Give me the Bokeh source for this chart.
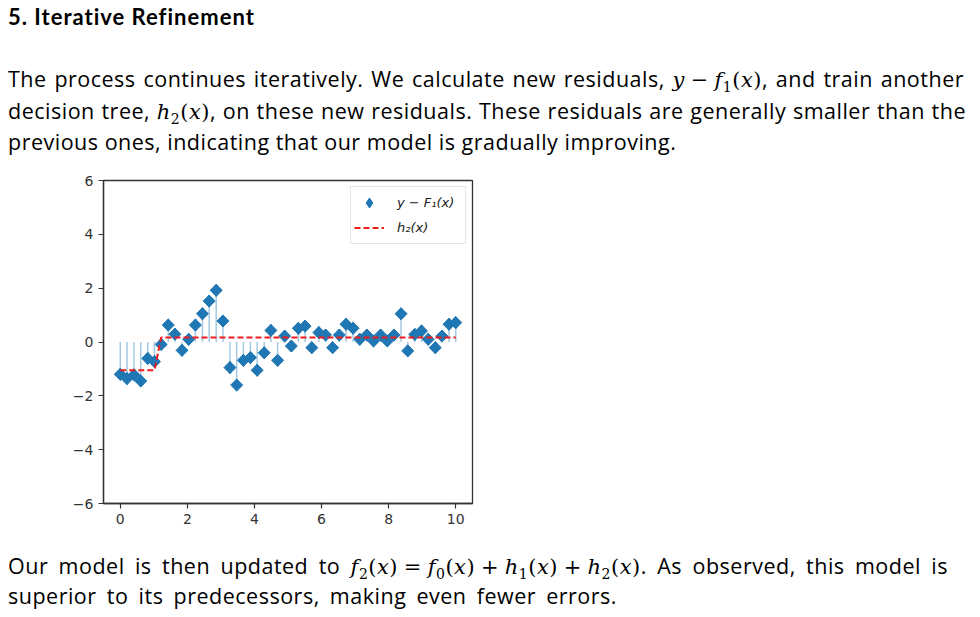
import math
from bokeh.plotting import figure
from bokeh.models import (Div, Spacer, Legend, LegendItem, ColumnDataSource,
                          FixedTicker, Range1d)
from bokeh.layouts import column, row
from bokeh.embed import file_html
from bokeh.resources import INLINE

# ---------------- data ----------------
x_vals = [0.0, 0.2, 0.41, 0.61, 0.82, 1.02, 1.22, 1.43, 1.63, 1.84,
          2.04, 2.24, 2.45, 2.65, 2.86, 3.06, 3.27, 3.47, 3.67, 3.88,
          4.08, 4.29, 4.49, 4.69, 4.9, 5.1, 5.31, 5.51, 5.71, 5.92,
          6.12, 6.33, 6.53, 6.73, 6.94, 7.14, 7.35, 7.55, 7.76, 7.96,
          8.16, 8.37, 8.57, 8.78, 8.98, 9.18, 9.39, 9.59, 9.8, 10.0]
residuals = [-1.20, -1.36, -1.22, -1.45, -0.61, -0.73, -0.09, 0.63, 0.29, -0.31,
             0.10, 0.63, 1.05, 1.52, 1.92, 0.78, -0.95, -1.60, -0.68, -0.58,
             -1.05, -0.40, 0.43, -0.68, 0.22, -0.15, 0.51, 0.59, -0.21, 0.35,
             0.26, -0.21, 0.26, 0.66, 0.51, 0.10, 0.26, 0.04, 0.26, 0.04,
             0.26, 1.05, -0.33, 0.28, 0.41, 0.10, -0.21, 0.22, 0.66, 0.72]
h2_vals = [-1.05, -1.05, -1.05, -1.05, -1.05, -1.05, 0.17, 0.17, 0.17, 0.17,
           0.17, 0.17, 0.17, 0.17, 0.17, 0.17, 0.17, 0.17, 0.17, 0.17,
           0.17, 0.17, 0.17, 0.17, 0.17, 0.17, 0.17, 0.17, 0.17, 0.17,
           0.17, 0.17, 0.17, 0.17, 0.17, 0.17, 0.17, 0.17, 0.17, 0.17,
           0.17, 0.17, 0.17, 0.17, 0.17, 0.17, 0.17, 0.17, 0.17, 0.17]
x_ticks = [0, 2, 4, 6, 8, 10]
x_tick_labels = ["0", "2", "4", "6", "8", "10"]
y_ticks = [-6, -4, -2, 0, 2, 4, 6]
y_tick_labels = ["\u22126", "\u22124", "\u22122", "0", "2", "4", "6"]
legend_labels = ["y \u2212 F\u2081(x)", "h\u2082(x)"]

# ---------------- text ----------------
BODY = "font-family:'Open Sans';font-size:21.5px;letter-spacing:0.5px;color:#000;"
MATH = "font-family:'DejaVu Serif';font-size:21px;letter-spacing:0.5px;"
SP = "\u2005"  # math medium space (not a justification opportunity)


def mi(s):
    return f"<span style=\"{MATH}font-style:italic;\">{s}</span>"


def mu(s):
    return f"<span style=\"{MATH}font-style:normal;\">{s}</span>"


def sub(s):
    return (f"<span style=\"{MATH}font-style:normal;font-size:14px;"
            f"vertical-align:-5px;line-height:0;\">{s}</span>")


def fn(name, idx):
    return mi(name) + sub(idx) + mu("(") + mi("x") + mu(")")


def line(top, width, html):
    return (f"<div style=\"position:absolute;left:0px;top:{top}px;width:{width}px;"
            f"white-space:nowrap;text-align:justify;text-align-last:justify;"
            f"line-height:1;{BODY}\">{html}</div>")


top_html = (
    "<div style=\"position:relative;width:964px;height:157px;\">"
    + "<div style=\"position:absolute;left:0px;top:-2px;white-space:nowrap;line-height:1;"
      "font-family:'Lato';font-weight:bold;font-size:22px;letter-spacing:1px;color:#000;\">"
      "5. Iterative Refinement</div>"
    + line(60, 956, "The process continues iteratively. We calculate new residuals, "
           + mi("y") + mu(SP + "\u2212" + SP) + fn("f", "1") + ", and train another")
    + line(92, 958, "decision tree, " + fn("h", "2")
           + ", on these new residuals. These residuals are generally smaller than the")
    + line(123, 667, "previous ones, indicating that our model is gradually improving.")
    + "</div>"
)

bottom_html = (
    "<div style=\"position:relative;width:964px;height:76px;\">"
    + line(22, 940, "Our model is then updated to " + fn("f", "2") + mu(SP + "=" + SP)
           + fn("f", "0") + mu(SP + "+" + SP) + fn("h", "1") + mu(SP + "+" + SP)
           + fn("h", "2") + ". As observed, this model is")
    + line(52, 609, "superior to its predecessors, making even fewer errors.")
    + "</div>"
)

top_div = Div(text=top_html, width=964, height=157, margin=0)
bottom_div = Div(text=bottom_html, width=964, height=76, margin=0)

# ---------------- chart ----------------
src = ColumnDataSource(dict(x=x_vals, r=residuals, h=h2_vals))

p = figure(width=420, height=368, x_range=Range1d(-0.5, 10.5), y_range=Range1d(-6, 6),
           output_backend="svg", toolbar_location=None,
           min_border_left=40, min_border_right=11, min_border_top=15, min_border_bottom=30)
p.margin = 0
p.grid.visible = False
p.background_fill_color = "white"
p.border_fill_color = "white"
p.outline_line_color = "#333333"
p.outline_line_width = 1.3

p.xaxis.ticker = FixedTicker(ticks=x_ticks)
p.yaxis.ticker = FixedTicker(ticks=y_ticks)
p.xaxis.major_label_overrides = {t: s for t, s in zip(x_ticks, x_tick_labels)}
p.yaxis.major_label_overrides = {t: s for t, s in zip(y_ticks, y_tick_labels)}
for ax in (p.xaxis[0], p.yaxis[0]):
    ax.minor_tick_line_color = None
    ax.major_tick_in = 0
    ax.major_tick_out = 5
    ax.major_tick_line_color = "#333333"
    ax.major_tick_line_width = 1.2
    ax.axis_line_color = "#333333"
    ax.axis_line_width = 1.3
    ax.major_label_text_font = "DejaVu Sans"
    ax.major_label_text_font_size = "14px"
    ax.major_label_text_color = "#333333"
    ax.major_label_standoff = 5

p.segment(x0="x", y0=0, x1="x", y1="r", source=src, line_color="#1f77b4",
          line_alpha=0.4, line_width=1.5)
# diamond glyph used for the legend; drawn first and fully covered by the markers above it
proxy = p.scatter(x="x", y="r", source=src, marker="diamond", size=12,
                  fill_color="#1f77b4", line_color="#1f77b4")
sc = p.scatter(x="x", y="r", source=src, marker="square", angle=math.pi / 4, size=8.5,
               fill_color="#1f77b4", line_color="#1f77b4")
ln = p.line(x="x", y="h", source=src, line_color="#ee1c1c", line_dash="6 3", line_width=2)

legend = Legend(items=[LegendItem(label=legend_labels[0], renderers=[proxy]),
                       LegendItem(label=legend_labels[1], renderers=[ln])],
                location="top_right")
legend.margin = 6
legend.padding = 3
legend.spacing = 0
legend.glyph_width = 30
legend.glyph_height = 25
legend.label_height = 25
legend.label_width = 65
legend.label_standoff = 13
legend.label_text_font = "DejaVu Sans"
legend.label_text_font_style = "italic"
legend.label_text_font_size = "13px"
legend.label_text_color = "#222222"
legend.border_line_color = "#cccccc"
legend.border_line_width = 1
legend.background_fill_alpha = 0.85
p.add_layout(legend)

layout = column(top_div, row(Spacer(width=55, height=368, margin=0), p, margin=0),
                bottom_div, margin=(8, 8, 8, 8))

open("out.html", "w").write(file_html(layout, INLINE))
